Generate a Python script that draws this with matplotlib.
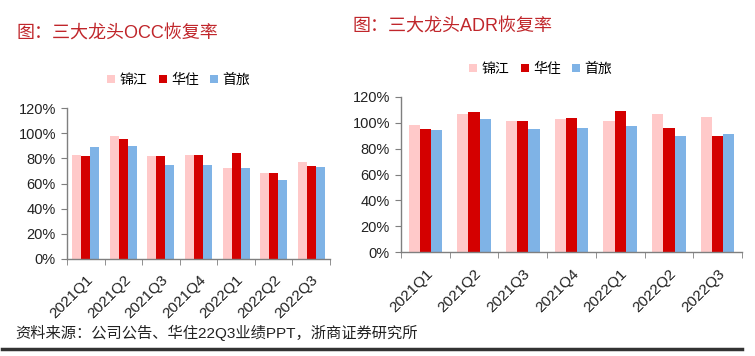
import matplotlib

matplotlib.use("Agg")
import matplotlib.pyplot as plt
import numpy as np
from matplotlib.lines import Line2D

plt.rcParams["font.family"] = ["Liberation Sans", "Noto Sans CJK SC", "DejaVu Sans"]

# ------------------------------------------------------------------ данные
quarters = ["2021Q1", "2021Q2", "2021Q3", "2021Q4", "2022Q1", "2022Q2", "2022Q3"]
brands = ["锦江", "华住", "首旅"]

occ_jinjiang = [83, 98, 81.5, 83, 72, 68.5, 77]
occ_huazhu = [82, 95, 82, 83, 84.5, 68, 74]
occ_shoulv = [89, 90, 74.5, 74.5, 72, 62.5, 73]

adr_jinjiang = [98, 106.5, 101.5, 102.5, 101, 106.5, 104.5]
adr_huazhu = [95, 108.5, 101, 103.5, 109, 95.5, 89.5]
adr_shoulv = [94.5, 102.5, 95, 96, 97.5, 90, 91]

colors = ["#FFC9C9", "#D40000", "#7FB3E6"]
title_color = "#C0262B"
spine_color = "#7F7F7F"

fig = plt.figure(figsize=(7.55, 3.56), dpi=100)


def bar_panel(rect, series, width):
    ax = fig.add_axes(rect)
    x = np.arange(len(quarters))
    for i, (vals, c) in enumerate(zip(series, colors)):
        ax.bar(x + (i - 1) * width, vals, width=width, color=c, linewidth=0)
    ax.set_xlim(-0.5, len(quarters) - 0.5)
    ax.set_ylim(0, 120)
    ax.set_yticks(range(0, 121, 20))
    ax.set_yticklabels([f"{v}%" for v in range(0, 121, 20)], fontsize=10.5, color="#222222")
    ax.set_xticks(x)
    ax.set_xticklabels(quarters, rotation=45, ha="right", rotation_mode="anchor",
                       fontsize=11, color="#222222")
    ax.tick_params(axis="x", length=0, pad=10)
    ax.set_xticks(np.arange(-0.5, len(quarters), 1.0), minor=True)
    ax.tick_params(axis="x", which="minor", length=4, color=spine_color, direction="out")
    ax.tick_params(axis="y", length=4, color=spine_color, direction="out", pad=4)
    for s in ("top", "right"):
        ax.spines[s].set_visible(False)
    for s in ("left", "bottom"):
        ax.spines[s].set_color(spine_color)
        ax.spines[s].set_linewidth(1.0)
    return ax


ax1 = bar_panel([67 / 755, 97 / 356, 263 / 755, 151 / 356],
                [occ_jinjiang, occ_huazhu, occ_shoulv], 0.24)
ax2 = bar_panel([401 / 755, 103.7 / 356, 341 / 755, 155.6 / 356],
                [adr_jinjiang, adr_huazhu, adr_shoulv], 0.23)

# заголовки
fig.text(16 / 755, 1 - 34 / 356, "图：三大龙头OCC恢复率", fontsize=13,
         color=title_color, va="center", ha="left")
fig.text(352 / 755, 1 - 27 / 356, "图：三大龙头ADR恢复率", fontsize=13,
         color=title_color, va="center", ha="left")

# легенды
handles = [Line2D([], [], marker="s", linestyle="none", markersize=6,
                  markerfacecolor=c, markeredgewidth=0, label=b)
           for b, c in zip(brands, colors)]
for cx, cy in ((178, 80), (540, 69)):
    fig.legend(handles=handles, loc="center", bbox_to_anchor=(cx / 755, 1 - cy / 356),
               ncol=3, frameon=False, fontsize=10, handletextpad=0.2,
               columnspacing=0.7, handlelength=0.8)

# источник и нижняя линия
fig.text(15 / 755, 1 - 333 / 356, "资料来源：公司公告、华住22Q3业绩PPT，浙商证券研究所",
         fontsize=11, color="#222222", va="center", ha="left")
fig.add_artist(Line2D([2 / 755, 742 / 755], [1 - 349 / 356] * 2,
                      color="#333333", linewidth=2.5))

fig.savefig("out.png", dpi=100)
